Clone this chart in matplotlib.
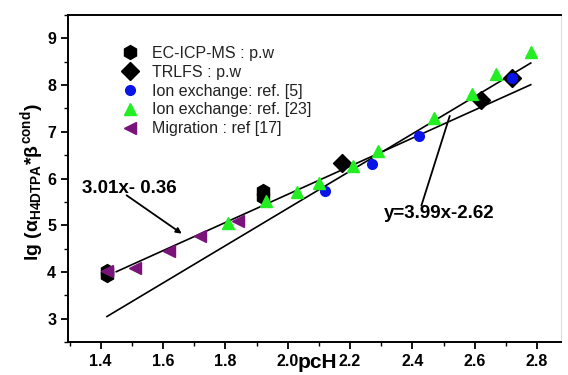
import numpy as np
import matplotlib
matplotlib.use('Agg')
from matplotlib import pyplot as plt

plt.rcParams['font.family'] = ['Liberation Sans', 'DejaVu Sans']
plt.rcParams['mathtext.fontset'] = 'custom'
plt.rcParams['mathtext.rm'] = 'Liberation Sans:bold'
plt.rcParams['mathtext.it'] = 'Liberation Sans:bold'
plt.rcParams['mathtext.bf'] = 'Liberation Sans:bold'

# EC-ICP-MS, this work
icp_x = [1.42, 1.42, 1.92, 1.92]
icp_y = [3.93, 4.03, 5.60, 5.73]
# TRLFS, this work
trlfs_x = [2.175, 2.62, 2.72]
trlfs_y = [6.34, 7.69, 8.15]
# ion exchange, ref. [5]
ie5_x = [2.12, 2.27, 2.42, 2.72]
ie5_y = [5.74, 6.31, 6.91, 8.15]
# ion exchange, ref. [23]
ie23_x = [1.81, 1.93, 2.03, 2.10, 2.21, 2.29, 2.47, 2.59, 2.67, 2.78]
ie23_y = [5.04, 5.52, 5.71, 5.91, 6.27, 6.59, 7.30, 7.80, 8.23, 8.70]
# migration, ref [17]
mig_x = [1.42, 1.51, 1.62, 1.72, 1.84]
mig_y = [4.02, 4.08, 4.45, 4.76, 5.10]

# linear fits: slope, intercept, x range
fit1 = (3.01, -0.36, 1.45, 2.78)
fit2 = (3.99, -2.62, 1.42, 2.78)

fig = plt.figure(figsize=(5.68, 3.75), dpi=100)
ax = fig.add_axes([68/568, 1-342/375, (561-68)/568, (342-15)/375])

for k, b, x0, x1 in (fit1, fit2):
    xs = np.array([x0, x1])
    ax.plot(xs, k*xs + b, color='black', lw=1.2, zorder=2)

ax.plot(icp_x, icp_y, 'h', color='black', ms=10, ls='none', label='EC-ICP-MS : p.w', zorder=3)
ax.plot(trlfs_x, trlfs_y, 'D', color='black', ms=9, ls='none', label='TRLFS : p.w', zorder=3)
ax.plot(ie5_x, ie5_y, 'o', color='#0a14e6', ms=7, ls='none', label='Ion exchange: ref. [5]', zorder=4)
ax.plot(ie23_x, ie23_y, '^', color='#22ee22', ms=8, ls='none', label='Ion exchange: ref. [23]', zorder=4)
ax.plot(mig_x, mig_y, '<', color='#7a137a', ms=8.5, ls='none', label='Migration : ref [17]', zorder=4)

leg = ax.legend(loc='upper left', bbox_to_anchor=(0.09, 0.93), frameon=False, numpoints=1,
                fontsize=11.5, handlelength=1.2, handletextpad=0.8, labelspacing=0.24,
                borderpad=0)
for t in leg.get_texts():
    t.set_color('#222222')

# fit labels with their pointer lines
ax.text(1.493, 5.79, '3.01x- 0.36', ha='center', va='center', fontsize=13.5, fontweight='bold')
ax.annotate('', xy=(1.66, 4.82), xytext=(1.483, 5.64),
            arrowprops=dict(arrowstyle='-|>', color='black', lw=1.3, mutation_scale=8,
                            shrinkA=0, shrinkB=0))
ax.text(2.487, 5.25, 'y=3.99x-2.62', ha='center', va='center', fontsize=13.5, fontweight='bold')
ax.annotate('', xy=(2.52, 7.34), xytext=(2.429, 5.42),
            arrowprops=dict(arrowstyle='-', color='black', lw=1.3, shrinkA=0, shrinkB=0))

ax.set_xlim(1.295, 2.877)
ax.set_ylim(2.5, 9.5)
ax.set_xticks(np.arange(1.4, 2.81, 0.2))
ax.set_xticks(np.arange(1.3, 2.86, 0.1), minor=True)
ax.set_yticks(np.arange(3, 10, 1))
ax.set_yticks(np.arange(2.5, 9.6, 0.5), minor=True)
ax.xaxis.set_major_formatter(matplotlib.ticker.FormatStrFormatter('%.1f'))
ax.tick_params(which='major', direction='out', length=5, width=1.3, labelsize=11.5)
ax.tick_params(which='minor', direction='out', length=3, width=1.0)
for lbl in ax.get_xticklabels() + ax.get_yticklabels():
    lbl.set_fontweight('bold')

for s in ('left', 'bottom', 'top'):
    ax.spines[s].set_linewidth(1.4)
ax.spines['right'].set_color('#dddddd')
ax.spines['right'].set_linewidth(0.8)

ax.set_xlabel('pcH', fontsize=15, fontweight='bold')
ax.xaxis.set_label_coords(0.505, -0.035)
ax.set_ylabel(r'lg ($\alpha_{H4DTPA}$*$\beta^{cond}$)', fontsize=14, fontweight='bold')
ax.yaxis.set_label_coords(-0.045, 0.49)

fig.savefig('out.png', dpi=100)
